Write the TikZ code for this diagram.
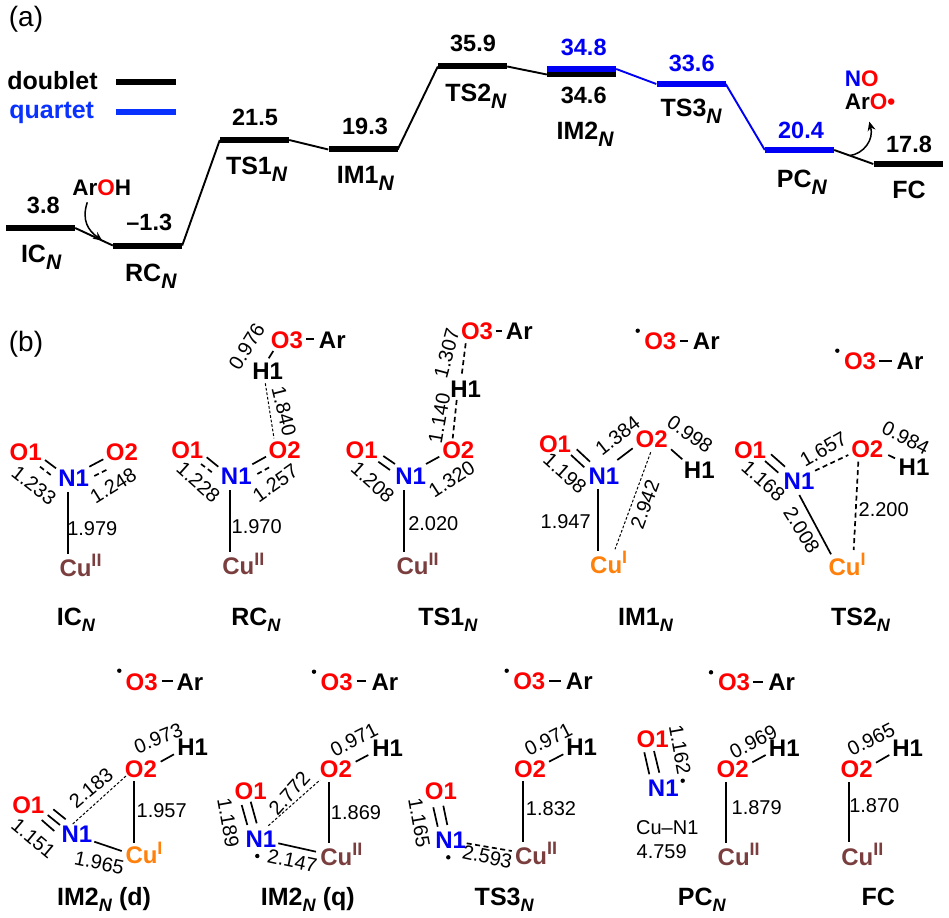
\documentclass[tikz,border=0pt]{standalone}
\usepackage{fontspec}
\setmainfont{Liberation Sans}
\usetikzlibrary{arrows.meta,calc}
\definecolor{qblue}{RGB}{0,0,245}
\definecolor{legblue}{RGB}{10,50,255}
\definecolor{cubrown}{RGB}{122,62,62}
\definecolor{cuorange}{RGB}{255,128,10}
\newcommand\fsz[1]{\fontsize{#1}{#1}\selectfont}
\newcommand\subA{\raisebox{-7pt}{\fsz{21}\textit{N}}}
\newcommand\subB{\raisebox{-6pt}{\fsz{18}\textit{N}}}
\newcommand\supr[1]{\raisebox{9.5pt}{\fsz{18}#1}}
% bond: options, atom A, offset, atom B, offset
\newcommand\bnd[5][]{\draw[bond,#1] ([shift={(#3)}]#2.center) -- ([shift={(#5)}]#4.center);}
% bond length label: name, position, rotation, text
\newcommand\bl[4]{\node[blen,rotate=#3] (#1) at (#2) {#4};}
% atom: style, name, position, text
\newcommand\atm[4]{\node[#1] (#2) at (#3) {#4};}
\newcommand\cuA[2]{\node[cutwo] (#1) at (#2) {Cu\supr{II}};}
\newcommand\cuB[2]{\node[cuone] (#1) at (#2) {Cu\supr{I}};}
\tikzset{
  level/.style={fill=black,inner sep=0,minimum width=69pt,minimum height=6pt},
  bluelevel/.style={level,fill=qblue},
  conn/.style={line width=1.9pt,black},
  bconn/.style={conn,qblue},
  curvearrow/.style={line width=1.5pt,-{Stealth[length=9pt,width=8pt]}},
  enum/.style={font=\bfseries\fsz{23.5},inner sep=0,anchor=center},
  benum/.style={enum,text=qblue},
  sname/.style={font=\bfseries\fsz{25},inner sep=0,anchor=base},
  panel/.style={font=\fsz{28},inner sep=0},
  atomtxt/.style={font=\bfseries\fsz{24},inner sep=0,anchor=center},
  oat/.style={atomtxt,text=red},
  nat/.style={atomtxt,text=qblue},
  hat/.style={atomtxt,text=black},
  cutwo/.style={atomtxt,text=cubrown},
  cuone/.style={atomtxt,text=cuorange},
  blen/.style={font=\fsz{20},inner sep=0,anchor=center},
  bond/.style={line width=1.7pt,black},
  dbond/.style={line width=1.7pt,dash pattern=on 5pt off 3.5pt},
  thindash/.style={line width=1pt,dash pattern=on 2.7pt off 1.9pt},
  raddot/.style={circle,fill=black,inner sep=0,minimum size=4.4pt},
  fragtxt/.style={font=\bfseries\fsz{22.5},inner sep=0,anchor=center},
}
\begin{document}
\begin{tikzpicture}[x=1pt,y=-1pt]
\useasboundingbox (0,0) rectangle (949,917);
\fill[white] (0,0) rectangle (949,917);

%%% (a)
\node[panel] (pa) at (26,19) {(a)};
\node[font=\bfseries\fsz{25},inner sep=0,anchor=base] (ldb) at (52.5,90) {doublet};
\node[font=\bfseries\fsz{25},inner sep=0,anchor=base,text=legblue] (lqt) at (51.7,118.3) {quartet};
\node[level,minimum width=60pt] (ldbl) at (146,82.3) {};
\node[level,minimum width=60pt,fill=legblue] (lqtl) at (146,111.7) {};

\node[level] (IC) at (40.5,228) {};
\node[level] (RC) at (147.5,245.5) {};
\node[level] (TSa) at (254.5,140) {};
\node[level] (IMa) at (363,149.5) {};
\node[level] (TSb) at (472.5,66.5) {};
\node[level] (IMbk) at (581.5,74.5) {};
\node[bluelevel] (IMbb) at (581.5,69) {};
\node[bluelevel] (TSc) at (691,84) {};
\node[bluelevel] (PC) at (799.5,150) {};
\node[level] (FC) at (908,164) {};

\draw[conn] (IC.east) -- (RC.west);
\draw[conn] (RC.east) -- (TSa.west);
\draw[conn] (TSa.east) -- (IMa.west);
\draw[conn] (IMa.east) -- (TSb.west);
\draw[conn] (TSb.east) -- (IMbk.west);
\draw[bconn] (IMbb.east) -- (TSc.west);
\draw[bconn] (TSc.east) -- (PC.west);
\draw[conn] (PC.east) -- (FC.west);

\node[enum] (eIC) at (43.3,205.7) {3.8};
\node[enum] (eRC) at (149.3,222.7) {–1.3};
\node[enum] (eTSa) at (255,117.7) {21.5};
\node[enum] (eIMa) at (365,126) {19.3};
\node[enum] (eTSb) at (473,43.3) {35.9};
\node[benum] (eIMbb) at (583.7,47.3) {34.8};
\node[enum] (eIMbk) at (583.7,95.3) {34.6};
\node[benum] (eTSc) at (691.7,63.3) {33.6};
\node[benum] (ePC) at (801,130.7) {20.4};
\node[enum] (eFC) at (909,144) {17.8};

\node[sname] (nIC) at (41.3,262.3) {IC\subA};
\node[sname] (nRC) at (151,281) {RC\subA};
\node[sname] (nTSa) at (256.7,175) {TS1\subA};
\node[sname] (nIMa) at (365.5,183.3) {IM1\subA};
\node[sname] (nTSb) at (476,101.7) {TS2\subA};
\node[sname] (nIMb) at (585.3,139.3) {IM2\subA};
\node[sname] (nTSc) at (691.3,116.7) {TS3\subA};
\node[sname] (nPC) at (802,187.7) {PC\subA};
\node[sname] (nFC) at (909,199) {FC};

\node[fragtxt] (ArOH) at (101.7,187.3) {Ar\textcolor{red}{O}H};
\node[fragtxt] (NO) at (861.7,78.3) {\textcolor{qblue}{N}\textcolor{red}{O}};
\node[fragtxt] (ArO) at (870,102) {Ar\textcolor{red}{O•}};
\coordinate (tipA) at ($(IC.east)!0.72!(RC.west)$);
\coordinate (tailB) at ($(PC.east)!0.4!(FC.west)$);
\draw[curvearrow] ([shift={(-14.4,15)}]ArOH.center) .. controls +(-6,18) and +(-14,-10) .. (tipA);
\draw[curvearrow] (tailB) .. controls +(14,-2) and +(4.7,18) .. ([shift={(-0.7,19.7)}]ArO.center);

%%% (b)
\node[panel] (pb) at (26,344) {(b)};

% IC
\atm{oat}{a-O1}{25.7,452.7}{O1}
\atm{oat}{a-O2}{122,452.7}{O2}
\atm{nat}{a-N1}{73.7,478.3}{N1}
\cuA{a-Cu}{80.5,565.4}
\bnd{a-O1}{19.3,7.3}{a-N1}{-17.7,-10}
\bnd[dbond]{a-O1}{14.3,14}{a-N1}{-22,-2.6}
\bnd{a-N1}{15.6,-11.6}{a-O2}{-18.7,6.6}
\bnd[dbond]{a-N1}{20.6,-2.3}{a-O2}{-13.7,16.3}
\bnd{a-N1}{-6,13.4}{a-Cu}{-12.8,-11.4}
\bl{a-l1}{34,485.7}{-38}{1.233}
\bl{a-l2}{113.3,485.7}{32}{1.248}
\bl{a-l3}{92.3,529}{0}{1.979}
\node[sname] (a-n) at (76,625.7) {IC\subB};

% RC
\atm{oat}{b-O3}{287,340}{O3}
\atm{hat}{b-Ar}{332.3,340}{Ar}
\atm{hat}{b-H1}{267.7,371.7}{H1}
\atm{oat}{b-O2}{284.7,450.7}{O2}
\atm{oat}{b-O1}{187.3,450.7}{O1}
\atm{nat}{b-N1}{236.3,476.7}{N1}
\cuA{b-Cu}{243.3,563.7}
\bnd{b-O3}{19,-1}{b-Ar}{-18.3,-1}
\bnd{b-H1}{1,-13.4}{b-O3}{-13.7,11}
\bnd[thindash]{b-H1}{-2.4,11.6}{b-O2}{-10.7,-12.4}
\bnd{b-O1}{19.4,6.6}{b-N1}{-18,-10}
\bnd[dbond]{b-O1}{13.7,13.3}{b-N1}{-23,-3.4}
\bnd{b-N1}{16,-12.4}{b-O2}{-18.7,6}
\bnd[dbond]{b-N1}{21,-2.7}{b-O2}{-13,15.3}
\bnd{b-N1}{-6.3,13.3}{b-Cu}{-13.3,-11.4}
\bl{b-l1}{246.7,346.7}{58}{0.976}
\bl{b-l2}{284,411}{-76}{1.840}
\bl{b-l3}{198.3,482.3}{-42}{1.228}
\bl{b-l4}{275.3,483.3}{35}{1.257}
\bl{b-l5}{256.7,527}{0}{1.970}
\node[sname] (b-n) at (256,625.7) {RC\subB};

% TS1
\atm{oat}{c-O3}{477,331.7}{O3}
\atm{hat}{c-Ar}{519.3,331.7}{Ar}
\atm{hat}{c-H1}{465.7,389.3}{H1}
\atm{oat}{c-O2}{458.3,450.7}{O2}
\atm{oat}{c-O1}{361.7,450.7}{O1}
\atm{nat}{c-N1}{410.7,476.7}{N1}
\cuA{c-Cu}{417.5,563.7}
\bnd{c-O3}{18.7,-0.7}{c-Ar}{-17.6,-0.7}
\bnd[dbond]{c-O3}{-11.3,11.6}{c-H1}{-4,-14.3}
\bnd[dbond]{c-H1}{-9,10.7}{c-O2}{-5.6,-12.4}
\bnd{c-O1}{21.6,5.3}{c-N1}{-15.7,-12.7}
\bnd{c-O1}{16.6,11}{c-N1}{-20.7,-6.7}
\bnd{c-N1}{15.3,-12.7}{c-O2}{-19,6}
\bnd{c-N1}{-6.7,13.3}{c-Cu}{-13.5,-11.4}
\bl{c-l1}{446.7,353.3}{75}{1.307}
\bl{c-l2}{439.3,418.3}{80}{1.140}
\bl{c-l3}{372.7,482.3}{-42}{1.208}
\bl{c-l4}{451.7,479.3}{33}{1.320}
\bl{c-l5}{433.3,523.7}{0}{2.020}
\node[sname] (c-n) at (448,625.7) {TS1\subB};

% IM1
\atm{oat}{d-O3}{660.3,341.7}{O3}
\atm{hat}{d-Ar}{706.3,341.7}{Ar}
\node[raddot] (d-dot) at (637.7,330.7) {};
\atm{oat}{d-O1}{555,444}{O1}
\atm{nat}{d-N1}{604,476}{N1}
\atm{oat}{d-O2}{651.7,439.3}{O2}
\atm{hat}{d-H1}{699.3,470}{H1}
\cuB{d-Cu}{608.7,562.6}
\bnd{d-O3}{19.7,-0.7}{d-Ar}{-18,-0.7}
\bnd{d-O1}{21.7,5.3}{d-N1}{-14,-14.3}
\bnd{d-O1}{16,11}{d-N1}{-19.7,-8.7}
\bnd{d-N1}{13.3,-16}{d-O2}{-19,9}
\bnd{d-O2}{19.3,10}{d-H1}{-17,-10.7}
\bnd{d-N1}{-5.7,13}{d-Cu}{-10.4,-11.6}
\bnd[thindash]{d-O2}{-1,13}{d-Cu}{6.3,-13.3}
\bl{d-l1}{617.7,435.7}{38}{1.384}
\bl{d-l2}{690,434.3}{-35}{0.998}
\bl{d-l3}{565,473.3}{-42}{1.198}
\bl{d-l4}{565.7,521.7}{0}{1.947}
\bl{d-l5}{645,504.3}{70}{2.942}
\node[sname] (d-n) at (645.7,625) {IM1\subB};

% TS2
\atm{oat}{e-O3}{860,361.7}{O3}
\atm{hat}{e-Ar}{910,361.7}{Ar}
\node[raddot] (e-dot) at (837.3,350.7) {};
\atm{oat}{e-O1}{750,450}{O1}
\atm{nat}{e-N1}{799,481.7}{N1}
\atm{oat}{e-O2}{867.3,449.3}{O2}
\atm{hat}{e-H1}{914,467.7}{H1}
\cuB{e-Cu}{847,564.3}
\bnd{e-O3}{19.3,-1}{e-Ar}{-18.3,-1}
\bnd{e-O1}{21,4.3}{e-N1}{-14,-15}
\bnd{e-O1}{15,11}{e-N1}{-20.7,-9}
\bnd[dbond]{e-N1}{16,-11}{e-O2}{-19,5.7}
\bnd{e-O2}{21,5.7}{e-H1}{-19,-9.4}
\bnd{e-N1}{0.3,13.3}{e-Cu}{-16,-10}
\bnd[dbond]{e-O2}{-9,12.4}{e-Cu}{6.7,-14.3}
\bl{e-l1}{823.3,449.3}{30}{1.657}
\bl{e-l2}{905.7,437.7}{-27}{0.984}
\bl{e-l3}{763.3,480.7}{-42}{1.168}
\bl{e-l4}{801.7,530}{-58}{2.008}
\bl{e-l5}{883.7,510}{0}{2.200}
\node[sname] (e-n) at (860.7,625) {TS2\subB};

% IM2 (d)
\atm{oat}{f-O3}{141.7,682.3}{O3}
\atm{hat}{f-Ar}{190,682.3}{Ar}
\node[raddot] (f-dot) at (119.3,670.7) {};
\atm{hat}{f-H1}{192.7,747.7}{H1}
\atm{oat}{f-O2}{141,769}{O2}
\atm{oat}{f-O1}{28.3,805}{O1}
\atm{nat}{f-N1}{77,834.3}{N1}
\cuB{f-Cu}{144,852.7}
\bnd{f-O3}{20,-1.6}{f-Ar}{-17.3,-1.6}
\bnd{f-O2}{19.7,-7.3}{f-H1}{-18.7,6.6}
\bnd{f-O1}{13.4,15}{f-N1}{-22.7,-3.3}
\bnd{f-O1}{19.4,10}{f-N1}{-17,-9.3}
\bnd{f-O1}{25,4.3}{f-N1}{-11.3,-15}
\bnd[thindash]{f-N1}{-4.3,-10.3}{f-O2}{-15,7}
\bnd{f-N1}{17.3,7.4}{f-Cu}{-22.3,-1.7}
\bnd{f-O2}{-7.3,12}{f-Cu}{-10.3,-10}
\bl{f-l1}{158.3,738.3}{22}{0.973}
\bl{f-l2}{91,787.7}{40}{2.183}
\bl{f-l3}{161.7,810.3}{0}{1.957}
\bl{f-l4}{33.3,838.3}{-40}{1.151}
\bl{f-l5}{99.3,862.7}{-12}{1.965}
\node[sname] (f-n) at (104,905) {IM2\subB{} (d)};

% IM2 (q)
\atm{oat}{g-O3}{336.7,682.3}{O3}
\atm{hat}{g-Ar}{385,682.3}{Ar}
\node[raddot] (g-dot) at (314,671.7) {};
\atm{hat}{g-H1}{387.7,748.3}{H1}
\atm{oat}{g-O2}{336,769}{O2}
\atm{oat}{g-O1}{250.7,791}{O1}
\atm{nat}{g-N1}{261,839}{N1}
\node[raddot] (g-dot2) at (257.3,856) {};
\cuA{g-Cu}{341.3,854.4}
\bnd{g-O3}{20,-1.6}{g-Ar}{-19.3,-1.6}
\bnd{g-O2}{19.7,-7.3}{g-H1}{-19.4,6.7}
\bnd{g-O1}{-9,14}{g-N1}{-13.7,-14}
\bnd{g-O1}{0,10.7}{g-N1}{-4.3,-15.7}
\bnd[thindash]{g-N1}{7.3,-13.3}{g-O2}{-16,11}
\bnd{g-N1}{17.3,4.3}{g-Cu}{-25.3,-2.7}
\bnd{g-O2}{-7.3,13.3}{g-Cu}{-12.6,-11.1}
\bl{g-l1}{354,740}{27}{0.971}
\bl{g-l2}{289.3,793.3}{48}{2.772}
\bl{g-l3}{356,812.3}{0}{1.869}
\bl{g-l4}{228.3,822.7}{-80}{1.189}
\bl{g-l5}{292.3,860.7}{-12}{2.147}
\node[sname] (g-n) at (307.8,905) {IM2\subB{} (q)};

% TS3
\atm{oat}{h-O3}{529.3,681.7}{O3}
\atm{hat}{h-Ar}{579.3,681.7}{Ar}
\node[raddot] (h-dot) at (506.7,670.7) {};
\atm{hat}{h-H1}{581.7,747.7}{H1}
\atm{oat}{h-O2}{530,769}{O2}
\atm{oat}{h-O1}{441,791.7}{O1}
\atm{nat}{h-N1}{450.7,840}{N1}
\node[raddot] (h-dot2) at (448.3,857.3) {};
\cuA{h-Cu}{536,853.4}
\bnd{h-O3}{19.7,-1}{h-Ar}{-18.3,-1}
\bnd{h-O2}{19,-7.3}{h-H1}{-18.4,6.6}
\bnd{h-O1}{-7.7,15.6}{h-N1}{-13,-13.3}
\bnd{h-O1}{2.3,14}{h-N1}{-3.4,-15}
\bnd[dbond]{h-N1}{16,3.3}{h-Cu}{-24.3,-2.4}
\bnd{h-O2}{-7.3,12}{h-Cu}{-13.3,-11.1}
\bl{h-l1}{548.3,739.3}{27}{0.971}
\bl{h-l2}{551,808.7}{0}{1.832}
\bl{h-l3}{419.3,822.7}{-80}{1.165}
\bl{h-l4}{487.3,856.7}{-12}{2.593}
\node[sname] (h-n) at (504.3,905) {TS3\subB};

% PC
\atm{oat}{i-O3}{734,682.7}{O3}
\atm{hat}{i-Ar}{781.7,682.7}{Ar}
\node[raddot] (i-dot) at (711,672.3) {};
\atm{hat}{i-H1}{784.3,748.3}{H1}
\atm{oat}{i-O2}{732.7,769}{O2}
\atm{oat}{i-O1}{652.7,739}{O1}
\atm{nat}{i-N1}{663.3,788.3}{N1}
\node[raddot] (i-dot2) at (682.7,780.7) {};
\cuA{i-Cu}{738.7,854.4}
\bnd{i-O3}{19.3,-0.4}{i-Ar}{-18.4,-0.4}
\bnd{i-O2}{19.6,-6.7}{i-H1}{-18.6,6.7}
\bnd{i-O1}{-8.4,13.3}{i-N1}{-14,-14}
\bnd{i-O1}{1.3,12}{i-N1}{-4,-15.6}
\bnd{i-O2}{-7,13.3}{i-Cu}{-13,-11.7}
\bl{i-l1}{680,750}{-80}{1.162}
\bl{i-l2}{753.3,741.7}{27}{0.969}
\bl{i-l3}{756.7,807.7}{0}{1.879}
\bl{i-l4}{667.3,827.7}{0}{Cu–N1}
\bl{i-l5}{661.7,851.7}{0}{4.759}
\node[sname] (i-n) at (702,905) {PC\subB};

% FC
\atm{hat}{j-H1}{907.7,748.3}{H1}
\atm{oat}{j-O2}{856.7,769}{O2}
\cuA{j-Cu}{862.3,854.4}
\bnd{j-O2}{19.3,-6.3}{j-H1}{-18.4,6.7}
\bnd{j-O2}{-7.4,13.3}{j-Cu}{-13,-12.1}
\bl{j-l1}{871,739.3}{27}{0.965}
\bl{j-l2}{874.3,806}{0}{1.870}
\node[sname] (j-n) at (878.3,905) {FC};
\end{tikzpicture}
\end{document}
